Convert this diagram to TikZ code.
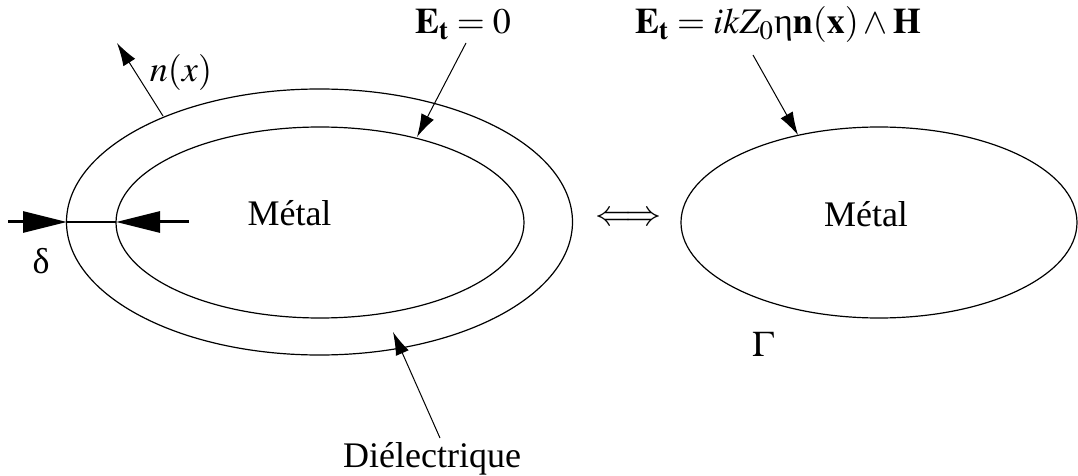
\documentclass[tikz,border=0pt]{standalone}
\usepackage{mathptmx}
\usepackage{fontspec}
\setmainfont{Liberation Serif}
\usetikzlibrary{arrows.meta,shapes.geometric}
\tikzset{
  lbl/.style={font=\fontsize{18}{21}\selectfont, inner sep=0pt},
  oval/.style={draw, ellipse, inner sep=0pt, line width=0.6pt},
  pointer/.style={line width=0.5pt, -{Latex[length=11.5pt,width=7pt]}},
  thick line/.style={line width=1.5pt, -{Triangle[length=22pt,width=10.5pt]}}
}
\begin{document}
\begin{tikzpicture}[x=0.5pt,y=-0.5pt]
\useasboundingbox (0,0) rectangle (1078,476);
% ellipses
\node (outer) [oval, minimum width=253pt, minimum height=133pt] at (319.5,222) {};
\node (inner) [oval, minimum width=204pt, minimum height=95.5pt] at (320,222.5) {};
\node (right) [oval, minimum width=198pt, minimum height=95.5pt] at (879,222.5) {};
% labels
\node (metalL) [lbl, anchor=base] at (289.5,226) {Métal};
\node (metalR) [lbl, anchor=base] at (866,227) {Métal};
\node (gamma) [lbl, anchor=base] at (763,357) {$\Gamma$};
\node (delta) [lbl, anchor=base] at (41,273) {δ};
\node (nx) [lbl, anchor=base] at (181,82) {$n(x)$};
\node (et0) [lbl, anchor=base] at (463,34) {$\mathbf{E}_{\mathbf{t}}=0$};
\node (etf) [lbl, anchor=base] at (778,34) {$\mathbf{E}_{\mathbf{t}}=ikZ_0\mbox{η}\mathbf{n}(\mathbf{x})\wedge\mathbf{H}$};
\node (diel) [lbl, anchor=base] at (432,467) {Diélectrique};
\node (equiv) [lbl] at (628,219) {$\Longleftrightarrow$};
% coordinates
\coordinate (nxtail) at (163,116);
\coordinate (nxtip) at (117,43);
\coordinate (et0tail) at (466,43);
\coordinate (et0tip) at (417,137);
\coordinate (etftail) at (753,55);
\coordinate (etftip) at (798,135);
\coordinate (dieltail) at (440,438);
\coordinate (dieltip) at (393,332);
\coordinate (dA) at (8,222);
\coordinate (dB) at (67,222);
\coordinate (dC) at (116,222);
\coordinate (dD) at (189,222);
% arrows
\draw[pointer] (nxtail) -- (nxtip);
\draw[pointer] (et0tail) -- (et0tip);
\draw[pointer] (etftail) -- (etftip);
\draw[pointer] (dieltail) -- (dieltip);
\draw[thick line] (dA) -- (dB);
\draw[line width=1pt] (dB) -- (dC);
\draw[thick line] (dD) -- (dC);
\end{tikzpicture}
\end{document}
